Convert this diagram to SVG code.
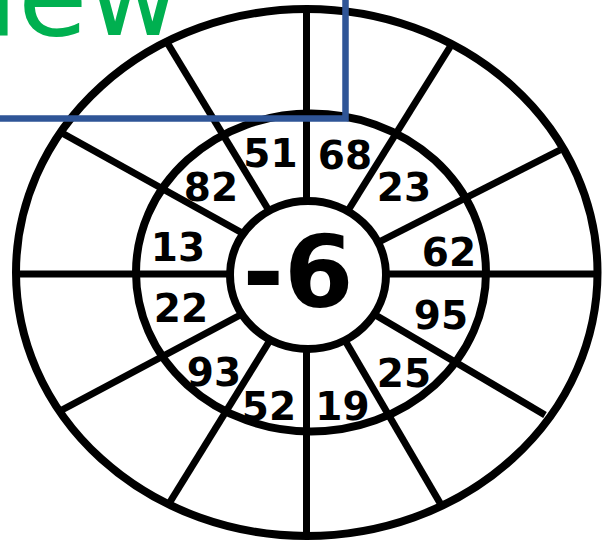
<svg xmlns="http://www.w3.org/2000/svg" width="610" height="541" viewBox="0 0 610 541">
  <style>
    .ring { fill: none; stroke: #000; stroke-width: 8; }
    .spoke { stroke: #000; stroke-width: 7; fill: none; }
    .num { font-family: "DejaVu Sans", "Liberation Sans", sans-serif; font-weight: bold; font-size: 39px; fill: #000; text-anchor: middle; }
    .center { font-family: "DejaVu Sans", "Liberation Sans", sans-serif; font-weight: bold; font-size: 100px; fill: #000; text-anchor: middle; }
    .title { font-family: "DejaVu Sans", "Open Sans", sans-serif; font-size: 113px; fill: #00B050; text-anchor: end; }
  </style>
  <rect width="610" height="541" fill="#fff"/>

  <g id="rings">
    <ellipse class="ring" cx="306.75" cy="272.5" rx="290.75" ry="263.5"/>
    <ellipse class="ring" cx="311" cy="272.5" rx="175" ry="159"/>
  </g>

  <g id="connectors">
    <line class="spoke" x1="306.5" y1="9" x2="306.5" y2="210"/>
    <line class="spoke" x1="306.5" y1="340" x2="306.5" y2="536"/>
    <line class="spoke" x1="16" y1="274" x2="240" y2="274"/>
    <line class="spoke" x1="378" y1="274" x2="597" y2="274"/>
    <line class="spoke" x1="450" y1="47" x2="344" y2="217"/>
    <line class="spoke" x1="560" y1="150" x2="375" y2="244"/>
    <line class="spoke" x1="545" y1="415" x2="372" y2="313"/>
    <line class="spoke" x1="440" y1="503" x2="343" y2="337"/>
    <line class="spoke" x1="168" y1="44" x2="271" y2="214"/>
    <line class="spoke" x1="62" y1="133" x2="244" y2="234"/>
    <line class="spoke" x1="60" y1="411" x2="244" y2="313"/>
    <line class="spoke" x1="170" y1="502" x2="272" y2="337"/>
  </g>

  <g id="hub">
    <ellipse cx="308" cy="275" rx="78" ry="74" fill="#fff" stroke="#000" stroke-width="8"/>
    <text class="center" x="298" y="307">-6</text>
  </g>

  <g id="cell-51"><text class="num" x="270.5" y="167">51</text></g>
  <g id="cell-68"><text class="num" x="345" y="169">68</text></g>
  <g id="cell-23"><text class="num" x="404" y="201">23</text></g>
  <g id="cell-62"><text class="num" x="449" y="266">62</text></g>
  <g id="cell-95"><text class="num" x="441" y="329">95</text></g>
  <g id="cell-25"><text class="num" x="404" y="387">25</text></g>
  <g id="cell-19"><text class="num" x="342.5" y="420">19</text></g>
  <g id="cell-52"><text class="num" x="269" y="420">52</text></g>
  <g id="cell-93"><text class="num" x="214" y="386">93</text></g>
  <g id="cell-22"><text class="num" x="181" y="322">22</text></g>
  <g id="cell-13"><text class="num" x="178" y="261">13</text></g>
  <g id="cell-82"><text class="num" x="211" y="201">82</text></g>

  <g id="title-box">
    <rect x="-10" y="-10" width="355.5" height="128.5" fill="none" stroke="#2F5597" stroke-width="6.5"/>
    <text class="title" x="180" y="35">view</text>
  </g>
</svg>
